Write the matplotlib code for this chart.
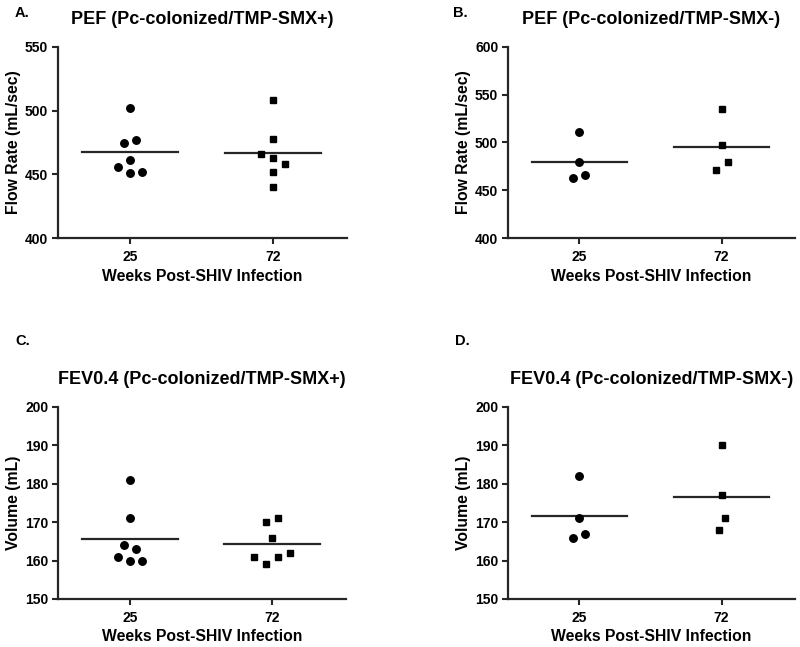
import numpy as np
import matplotlib
matplotlib.use("Agg")
import matplotlib.pyplot as plt

plt.rcParams['font.family'] = ['Liberation Sans', 'DejaVu Sans']
plt.rcParams['font.weight'] = 'bold'

# ---- data ----
weeks = ["25", "72"]

pef_pos_w25 = [502, 475, 477, 461, 456, 451, 452]
pef_pos_w72 = [508, 478, 466, 463, 458, 452, 440]

pef_neg_w25 = [511, 480, 466, 463]
pef_neg_w72 = [535, 497, 480, 471]

fev_pos_w25 = [181, 171, 164, 163, 161, 160, 160]
fev_pos_w72 = [170, 171, 166, 162, 161, 161, 159]

fev_neg_w25 = [182, 171, 167, 166]
fev_neg_w72 = [190, 177, 171, 168]

panels = [
    dict(letter="A.", title="PEF (Pc-colonized/TMP-SMX+)", ylabel="Flow Rate (mL/sec)",
         groups=[pef_pos_w25, pef_pos_w72], ylim=(400, 550), yticks=[400, 450, 500, 550]),
    dict(letter="B.", title="PEF (Pc-colonized/TMP-SMX-)", ylabel="Flow Rate (mL/sec)",
         groups=[pef_neg_w25, pef_neg_w72], ylim=(400, 600), yticks=[400, 450, 500, 550, 600]),
    dict(letter="C.", title="FEV0.4 (Pc-colonized/TMP-SMX+)", ylabel="Volume (mL)",
         groups=[fev_pos_w25, fev_pos_w72], ylim=(150, 200), yticks=[150, 160, 170, 180, 190, 200]),
    dict(letter="D.", title="FEV0.4 (Pc-colonized/TMP-SMX-)", ylabel="Volume (mL)",
         groups=[fev_neg_w25, fev_neg_w72], ylim=(150, 200), yticks=[150, 160, 170, 180, 190, 200]),
]
xlabel = "Weeks Post-SHIV Infection"

W, H = 800, 647
fig = plt.figure(figsize=(W / 100, H / 100), dpi=100)

# axes rectangles in pixels: left, top, right, bottom
rects_px = [
    (58, 47, 347, 238),
    (508, 47, 795, 238),
    (58, 407, 346, 599),
    (508, 407, 795, 599),
]
letter_px = [(15, 13), (453, 13), (15, 341), (455, 341)]
title_y_px = [19, 19, 379, 379]
xlabel_base_px = [281, 281, 641, 641]

XL = (-0.503, 1.517)
DARK = '#262626'


def swarm_offsets(vals, ppu_y, step=6.0, dist=12.0, link=15.0):
    vals = np.asarray(vals, dtype=float)
    n = len(vals)
    offs = np.zeros(n)
    placed = []
    for i in np.argsort(vals, kind='stable'):
        y = vals[i] * ppu_y
        k = 0
        chosen = None
        while chosen is None:
            cands = [0.0] if k == 0 else [k * step, -k * step]
            for c in cands:
                ok = True
                for j in placed:
                    dx = c - offs[j]
                    dy = y - vals[j] * ppu_y
                    if np.hypot(dx, dy) < dist - 1e-9:
                        ok = False
                        break
                if ok:
                    chosen = c
                    break
            k += 1
        offs[i] = chosen
        placed.append(i)
    # group close points and center each group
    parent = list(range(n))

    def find(a):
        while parent[a] != a:
            parent[a] = parent[parent[a]]
            a = parent[a]
        return a
    for a in range(n):
        for b in range(a + 1, n):
            if np.hypot(offs[a] - offs[b], (vals[a] - vals[b]) * ppu_y) <= link:
                parent[find(a)] = find(b)
    comps = {}
    for a in range(n):
        comps.setdefault(find(a), []).append(a)
    for members in comps.values():
        o = offs[members]
        offs[members] = o - (o.min() + o.max()) / 2.0
    return offs


for p, (l, t, r, b), (lx, ly), ty, xb in zip(panels, rects_px, letter_px, title_y_px, xlabel_base_px):
    ax = fig.add_axes([l / W, 1 - b / H, (r - l) / W, (b - t) / H])
    ax.set_xlim(*XL)
    ax.set_ylim(*p['ylim'])
    ppu_y = (b - t) / (p['ylim'][1] - p['ylim'][0])
    ppu_x = (r - l) / (XL[1] - XL[0])
    for gi, (vals, mk) in enumerate(zip(p['groups'], ['o', 's'])):
        offs = swarm_offsets(vals, ppu_y) / ppu_x
        ax.plot(gi + offs, vals, linestyle='none', marker=mk, ms=5.4 if mk == 'o' else 5.0,
                color='black', clip_on=False, zorder=3)
        m = np.mean(vals)
        ax.plot([gi - 0.336, gi + 0.336], [m, m], color=DARK, lw=1.6, zorder=2)
    for s in ['top', 'right']:
        ax.spines[s].set_visible(False)
    for s in ['left', 'bottom']:
        ax.spines[s].set_linewidth(1.6)
        ax.spines[s].set_color(DARK)
    ax.set_xticks([0, 1])
    ax.set_xticklabels(weeks)
    ax.set_yticks(p['yticks'])
    ax.tick_params(axis='both', direction='out', length=4.5, width=1.5, color=DARK,
                   labelsize=10, pad=2.5)
    ax.tick_params(axis='x', pad=4)
    for lab in ax.get_xticklabels() + ax.get_yticklabels():
        lab.set_fontweight('bold')
    ax.set_ylabel(p['ylabel'], fontsize=11.3, fontweight='bold', labelpad=3)
    fig.text((l + r) / 2 / W, 1 - xb / H, xlabel, ha='center', va='baseline',
             fontsize=11.3, fontweight='bold')
    fig.text((l + r) / 2 / W, 1 - ty / H, p['title'], ha='center', va='center',
             fontsize=13, fontweight='bold')
    fig.text(lx / W, 1 - ly / H, p['letter'], ha='left', va='center',
             fontsize=10.5, fontweight='bold')

fig.savefig("out.png", dpi=100)
